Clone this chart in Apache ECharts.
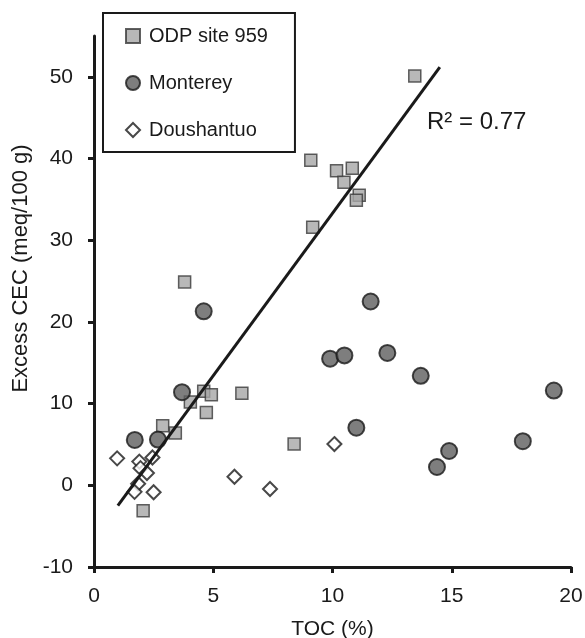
<!DOCTYPE html>
<html>
<head>
<meta charset="utf-8">
<script src="https://cdn.jsdelivr.net/npm/echarts@6/dist/echarts.min.js"></script>
<style>
  html, body { margin: 0; padding: 0; background: #ffffff; }
  #chart { width: 585px; height: 638px; }
</style>
</head>
<body>
<div id="chart"></div>
<script>
// TOC (%) and excess CEC (meq/100 g) per sample set
const odpToc = [13.45, 9.09, 10.17, 10.83, 10.48, 11.12, 11.0, 9.17, 3.8, 4.6, 4.92, 6.2, 4.04, 4.71, 2.88, 3.41, 2.06, 8.39];
const odpCec = [50.1, 39.8, 38.5, 38.8, 37.1, 35.5, 34.9, 31.6, 24.9, 11.5, 11.1, 11.26, 10.2, 8.9, 7.3, 6.4, -3.1, 5.06];

const montereyToc = [11.6, 9.9, 10.5, 12.3, 13.7, 19.28, 11.0, 17.98, 14.89, 14.38, 4.6, 3.69, 1.71, 2.68];
const montereyCec = [22.5, 15.5, 15.9, 16.2, 13.4, 11.6, 7.05, 5.4, 4.2, 2.24, 21.3, 11.4, 5.55, 5.6];

const doushantuoToc = [0.97, 1.9, 2.45, 1.95, 2.22, 1.85, 1.7, 2.5, 5.89, 7.38, 10.08];
const doushantuoCec = [3.3, 2.9, 3.4, 2.1, 1.5, 0.2, -0.8, -0.85, 1.05, -0.45, 5.05];

// End points of the fitted line
const fitToc = [1.0, 14.5];
const fitCec = [-2.5, 51.2];
const fitLabel = 'R\u00B2 = 0.77';

const yTicks = [-10, 0, 10, 20, 30, 40, 50];

const zip = (xs, ys) => xs.map((x, i) => [x, ys[i]]);

const FONT = '"Liberation Sans", Arial, Helvetica, sans-serif';
const INK = '#1a1a1a';

const chart = echarts.init(document.getElementById('chart'), null, { renderer: 'canvas' });

chart.setOption({
  animation: false,
  backgroundColor: '#ffffff',
  textStyle: { fontFamily: FONT, color: INK },
  grid: { left: 94, right: 14, top: 36, bottom: 71, containLabel: false, outerBoundsMode: 'none' },
  xAxis: {
    type: 'value',
    min: 0, max: 20, interval: 5,
    name: 'TOC (%)',
    nameLocation: 'middle',
    nameGap: 52,
    nameTextStyle: { fontSize: 21, color: INK, fontFamily: FONT },
    axisLine: { onZero: false, lineStyle: { color: INK, width: 3 } },
    axisTick: { show: true, length: 6, inside: false, lineStyle: { color: INK, width: 3 } },
    axisLabel: { fontSize: 21, color: INK, margin: 19, fontFamily: FONT },
    splitLine: { show: false }
  },
  yAxis: {
    type: 'value',
    min: -10, max: 55, interval: 10,
    name: 'Excess CEC (meq/100 g)',
    nameLocation: 'middle',
    nameGap: 60,
    nameTextStyle: { fontSize: 22, color: INK, fontFamily: FONT, padding: [0, 0, 0, 66] },
    axisLine: { onZero: false, lineStyle: { color: INK, width: 3 } },
    axisTick: { show: true, length: 6, inside: false, customValues: yTicks, lineStyle: { color: INK, width: 3 } },
    axisLabel: { fontSize: 21, color: INK, margin: 21, customValues: yTicks, fontFamily: FONT },
    splitLine: { show: false }
  },
  legend: {
    orient: 'vertical',
    left: 103, top: 13,
    padding: [13, 27, 12, 22],
    itemWidth: 14, itemHeight: 14,
    itemGap: 27,
    borderColor: INK, borderWidth: 2,
    backgroundColor: '#ffffff',
    textStyle: { fontSize: 20, color: INK, fontFamily: FONT, lineHeight: 20, padding: [0, 0, 0, 4] },
    data: ['ODP site 959', 'Monterey', 'Doushantuo']
  },
  graphic: [
    {
      type: 'text',
      left: 427, top: 110,
      z: 10,
      style: { text: fitLabel, fontSize: 24, fontFamily: FONT, fill: INK }
    }
  ],
  series: [
    {
      name: 'ODP site 959',
      type: 'scatter',
      symbol: 'rect',
      symbolSize: 12,
      itemStyle: { color: '#a6a6a6', borderColor: '#3a3a3a', borderWidth: 1.5 },
      data: zip(odpToc, odpCec),
      z: 2
    },
    {
      name: 'Monterey',
      type: 'scatter',
      symbol: 'circle',
      symbolSize: 16,
      itemStyle: { color: '#5e5e5e', borderColor: '#1a1a1a', borderWidth: 2 },
      data: zip(montereyToc, montereyCec),
      z: 3
    },
    {
      name: 'Doushantuo',
      type: 'scatter',
      symbol: 'diamond',
      symbolSize: 14,
      itemStyle: { color: '#ffffff', borderColor: '#1a1a1a', borderWidth: 2 },
      data: zip(doushantuoToc, doushantuoCec),
      z: 4
    },
    {
      name: 'fit',
      type: 'line',
      data: zip(fitToc, fitCec),
      symbol: 'none',
      lineStyle: { color: INK, width: 3 },
      z: 5,
      silent: true
    }
  ]
});
</script>
</body>
</html>
